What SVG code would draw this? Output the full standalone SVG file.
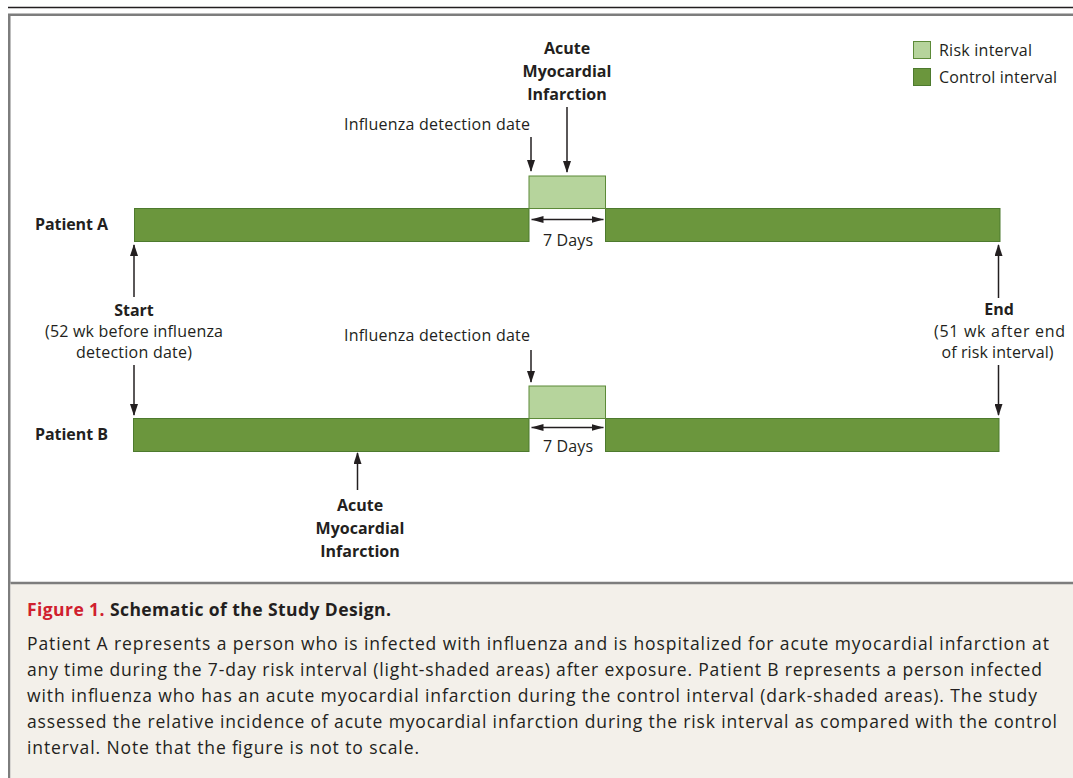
<svg xmlns="http://www.w3.org/2000/svg" width="1073" height="778" viewBox="0 0 1073 778">
<style>
text{font-family:"Open Sans","Noto Sans","Liberation Sans",sans-serif;fill:#231f20}
.b{font-weight:bold;font-size:16px}
.r{font-size:16px}
.c{font-size:17.5px}
.m{text-anchor:middle}
.dark{fill:#6b963d;stroke:#4d7a2e;stroke-width:1}
.light{fill:#b6d49c;stroke:#5c8a38;stroke-width:1}
.ar{stroke:#231f20;stroke-width:1.5;fill:none;marker-end:url(#ah)}
.dbl{stroke:#231f20;stroke-width:1.5;fill:none;marker-end:url(#ah2);marker-start:url(#ah2)}
</style>
<defs>
<marker id="ah" markerUnits="userSpaceOnUse" markerWidth="8" markerHeight="12" refX="4" refY="11" orient="0" viewBox="0 0 8 12">
<path d="M0,0 L8,0 L4,12 z" fill="#231f20"/>
</marker>
<marker id="ah2" markerUnits="userSpaceOnUse" markerWidth="12" markerHeight="7" refX="12" refY="3.5" orient="auto-start-reverse" viewBox="0 0 12 7">
<path d="M0,0 L12,3.5 L0,7 z" fill="#231f20"/>
</marker>
<marker id="up" markerUnits="userSpaceOnUse" markerWidth="8" markerHeight="12" refX="4" refY="1" orient="0" viewBox="0 0 8 12">
<path d="M0,12 L8,12 L4,0 z" fill="#231f20"/>
</marker>
</defs>
<rect x="0" y="0" width="1073" height="778" fill="#ffffff"/>
<g id="frame">
<line x1="8" y1="7.5" x2="1073" y2="7.5" stroke="#231f20" stroke-width="1.6"/>
<rect x="9.25" y="14.75" width="1070" height="770" fill="none" stroke="#7d7d7d" stroke-width="2.5"/>
<rect x="10.5" y="583" width="1063" height="195" fill="#f3f0ea"/>
<line x1="10.5" y1="583" x2="1073" y2="583" stroke="#7d7d7d" stroke-width="2.5"/>
</g>
<g id="legend">
<rect class="light" x="913.5" y="41.5" width="17" height="17"/>
<rect class="dark" x="913.5" y="68.5" width="17" height="17"/>
<text class="r" x="939" y="56" textLength="93">Risk interval</text>
<text class="r" x="939" y="82.5" textLength="118">Control interval</text>
</g>
<g id="patientA">
<text class="b" x="35" y="230" textLength="73">Patient A</text>
<rect class="dark" x="134.5" y="208.5" width="394.5" height="33"/>
<rect class="dark" x="605.5" y="208.5" width="394.5" height="33"/>
<rect class="light" x="529" y="176" width="76.5" height="32.5"/>
<text class="r m" x="568" y="246" textLength="50">7 Days</text>
<text class="r m" x="437" y="130" textLength="186">Influenza detection date</text>
<text class="b m" x="567" y="54">Acute</text>
<text class="b m" x="567" y="77">Myocardial</text>
<text class="b m" x="567" y="100">Infarction</text>
</g>
<g id="patientB">
<text class="b" x="35" y="440" textLength="73">Patient B</text>
<rect class="dark" x="133.5" y="418.5" width="395.5" height="33"/>
<rect class="dark" x="605.5" y="418.5" width="393.5" height="33"/>
<rect class="light" x="529" y="386" width="76.5" height="32.5"/>
<text class="r m" x="568" y="452" textLength="50">7 Days</text>
<text class="r m" x="437" y="341" textLength="186">Influenza detection date</text>
<text class="b m" x="360" y="511">Acute</text>
<text class="b m" x="360" y="534">Myocardial</text>
<text class="b m" x="360" y="557">Infarction</text>
</g>
<g id="start">
<text class="b m" x="134" y="316">Start</text>
<text class="r m" x="134" y="337" textLength="178">(52 wk before influenza</text>
<text class="r m" x="134" y="358" textLength="116">detection date)</text>
</g>
<g id="end">
<text class="b m" x="999" y="315">End</text>
<text class="r m" x="999.5" y="337" textLength="131">(51 wk after end</text>
<text class="r m" x="997.5" y="358" textLength="112">of risk interval)</text>
</g>
<g id="connectors">
<line class="ar" x1="531" y1="137" x2="531" y2="171"/>
<line class="ar" x1="567" y1="107" x2="567" y2="172"/>
<line class="dbl" x1="531.5" y1="219.5" x2="603.5" y2="219.5"/>
<line class="ar" x1="531" y1="350" x2="531" y2="382"/>
<line class="dbl" x1="531.5" y1="427.5" x2="603.5" y2="427.5"/>
<line stroke="#231f20" stroke-width="1.5" marker-start="url(#up)" x1="134" y1="245" x2="134" y2="297"/>
<line class="ar" x1="134" y1="365" x2="134" y2="415"/>
<line stroke="#231f20" stroke-width="1.5" marker-start="url(#up)" x1="998.5" y1="245" x2="998.5" y2="298"/>
<line class="ar" x1="998.5" y1="365" x2="998.5" y2="415"/>
<line stroke="#231f20" stroke-width="1.5" marker-start="url(#up)" x1="357.5" y1="453" x2="357.5" y2="490"/>
</g>
<g id="caption">
<text class="c" x="27" y="616" style="font-weight:bold" textLength="364"><tspan style="fill:#d0202e">Figure 1.</tspan> Schematic of the Study Design.</text>
<text class="c" x="27" y="649.5" textLength="1022">Patient A represents a person who is infected with influenza and is hospitalized for acute myocardial infarction at</text>
<text class="c" x="27" y="675.5" textLength="1015">any time during the 7-day risk interval (light-shaded areas) after exposure. Patient B represents a person infected</text>
<text class="c" x="27" y="701.5" textLength="1010">with influenza who has an acute myocardial infarction during the control interval (dark-shaded areas). The study</text>
<text class="c" x="27" y="727.5" textLength="1030">assessed the relative incidence of acute myocardial infarction during the risk interval as compared with the control</text>
<text class="c" x="27" y="753.5" textLength="392">interval. Note that the figure is not to scale.</text>
</g>
</svg>
